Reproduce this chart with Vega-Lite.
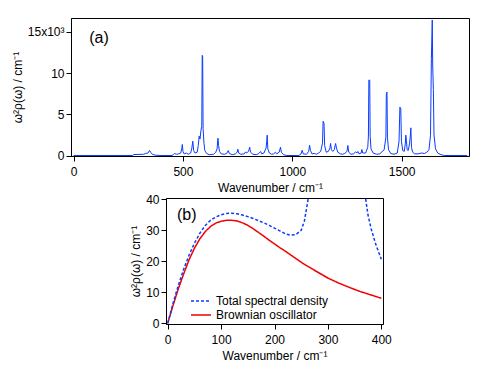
{
  "$schema": "https://vega.github.io/schema/vega-lite/v6.json",
  "padding": {"left": 10, "top": 17, "right": 0, "bottom": 0},
  "config": {
    "font": "Liberation Sans",
    "view": {"stroke": null},
    "axis": {"grid": false, "domainColor": "black", "tickColor": "black", "tickSize": 5, "labelColor": "black", "titleColor": "black", "labelFontSize": 12, "titleFontSize": 12, "titleFontWeight": "normal", "labelPadding": 2, "titlePadding": 3, "labelFont": "Liberation Sans", "titleFont": "Liberation Sans", "labelOverlap": false},
    "axisX": {"labelPadding": 5, "titlePadding": 5},
    "legend": {"labelFont": "Liberation Sans", "labelFontSize": 12}
  },
  "datasets": {
    "spectrum": [
      {"w":0,"s":0},{"w":270,"s":0},{"w":275,"s":120},{"w":320,"s":150},{"w":330,"s":250},{"w":340,"s":300},{"w":347,"s":620},{"w":352,"s":400},{"w":360,"s":150},{"w":375,"s":30},{"w":400,"s":0},{"w":450,"s":0},
      {"w":455,"s":100},{"w":462,"s":250},{"w":470,"s":150},{"w":480,"s":200},{"w":490,"s":300},{"w":495,"s":900},{"w":497,"s":1340},{"w":500,"s":500},{"w":505,"s":200},{"w":515,"s":300},{"w":525,"s":150},{"w":535,"s":300},{"w":540,"s":800},{"w":545,"s":1740},{"w":549,"s":600},{"w":555,"s":300},{"w":565,"s":400},{"w":570,"s":1200},{"w":574,"s":2350},{"w":578,"s":2000},{"w":582,"s":3000},{"w":586,"s":3560},{"w":588,"s":12160},{"w":590,"s":12000},{"w":592,"s":3300},{"w":596,"s":1500},{"w":600,"s":600},{"w":608,"s":250},{"w":620,"s":100},
      {"w":640,"s":150},{"w":650,"s":400},{"w":656,"s":800},{"w":660,"s":2100},{"w":663,"s":1200},{"w":667,"s":500},{"w":675,"s":200},{"w":690,"s":150},{"w":700,"s":250},{"w":707,"s":600},{"w":712,"s":250},{"w":725,"s":100},{"w":740,"s":200},{"w":748,"s":400},{"w":751,"s":770},{"w":755,"s":300},{"w":765,"s":150},{"w":780,"s":200},{"w":786,"s":440},{"w":790,"s":300},{"w":800,"s":500},{"w":805,"s":1010},{"w":809,"s":400},{"w":820,"s":150},{"w":835,"s":100},{"w":845,"s":200},{"w":855,"s":490},{"w":860,"s":200},{"w":870,"s":300},{"w":880,"s":900},{"w":883,"s":1700},{"w":885,"s":2470},{"w":888,"s":800},{"w":895,"s":300},{"w":905,"s":150},{"w":915,"s":200},{"w":923,"s":400},{"w":928,"s":200},{"w":940,"s":400},{"w":946,"s":1010},{"w":950,"s":400},{"w":960,"s":100},{"w":975,"s":0},
      {"w":1030,"s":0},{"w":1040,"s":200},{"w":1045,"s":640},{"w":1050,"s":200},{"w":1065,"s":150},{"w":1075,"s":500},{"w":1079,"s":1250},{"w":1083,"s":600},{"w":1090,"s":200},{"w":1100,"s":250},{"w":1110,"s":150},{"w":1120,"s":300},{"w":1130,"s":500},{"w":1138,"s":1500},{"w":1141,"s":4160},{"w":1145,"s":3900},{"w":1148,"s":1200},{"w":1155,"s":400},{"w":1165,"s":500},{"w":1172,"s":900},{"w":1175,"s":1460},{"w":1179,"s":700},{"w":1185,"s":500},{"w":1192,"s":700},{"w":1198,"s":1460},{"w":1202,"s":900},{"w":1208,"s":400},{"w":1220,"s":200},{"w":1230,"s":150},{"w":1240,"s":250},{"w":1250,"s":500},{"w":1254,"s":1220},{"w":1258,"s":400},{"w":1268,"s":150},{"w":1280,"s":200},{"w":1290,"s":450},{"w":1295,"s":300},{"w":1300,"s":490},{"w":1305,"s":200},{"w":1315,"s":300},{"w":1318,"s":730},{"w":1322,"s":300},{"w":1335,"s":300},
      {"w":1345,"s":1000},{"w":1348,"s":2350},{"w":1350,"s":9160},{"w":1354,"s":9160},{"w":1356,"s":2350},{"w":1360,"s":800},{"w":1370,"s":300},{"w":1385,"s":150},{"w":1400,"s":200},{"w":1420,"s":700},{"w":1428,"s":2230},{"w":1430,"s":7500},{"w":1433,"s":7700},{"w":1435,"s":2230},{"w":1440,"s":700},{"w":1450,"s":250},{"w":1465,"s":150},{"w":1480,"s":300},{"w":1488,"s":1740},{"w":1492,"s":5880},{"w":1496,"s":5700},{"w":1499,"s":1740},{"w":1505,"s":600},{"w":1512,"s":500},{"w":1517,"s":1500},{"w":1519,"s":2470},{"w":1522,"s":1800},{"w":1525,"s":700},{"w":1530,"s":600},{"w":1536,"s":1400},{"w":1540,"s":2500},{"w":1542,"s":3360},{"w":1545,"s":1000},{"w":1550,"s":400},{"w":1560,"s":200},{"w":1575,"s":200},{"w":1590,"s":300},{"w":1605,"s":250},{"w":1615,"s":400},{"w":1625,"s":700},{"w":1632,"s":2470},{"w":1636,"s":11750},{"w":1640,"s":16460},{"w":1642,"s":11000},{"w":1645,"s":8030},{"w":1648,"s":2470},{"w":1655,"s":800},{"w":1665,"s":300},{"w":1680,"s":100},{"w":1695,"s":0},{"w":1800,"s":0}
    ],
    "density": [
      {"w":0,"v":0,"series":"Brownian oscillator"},{"w":10,"v":5.8,"series":"Brownian oscillator"},{"w":20,"v":11.2,"series":"Brownian oscillator"},{"w":30,"v":16,"series":"Brownian oscillator"},{"w":40,"v":20.5,"series":"Brownian oscillator"},{"w":50,"v":24.2,"series":"Brownian oscillator"},{"w":60,"v":27.2,"series":"Brownian oscillator"},{"w":70,"v":29.5,"series":"Brownian oscillator"},{"w":80,"v":31.2,"series":"Brownian oscillator"},{"w":90,"v":32.3,"series":"Brownian oscillator"},{"w":100,"v":32.9,"series":"Brownian oscillator"},{"w":110,"v":33.2,"series":"Brownian oscillator"},{"w":120,"v":33.2,"series":"Brownian oscillator"},{"w":130,"v":33.0,"series":"Brownian oscillator"},{"w":140,"v":32.4,"series":"Brownian oscillator"},{"w":150,"v":31.6,"series":"Brownian oscillator"},{"w":160,"v":30.5,"series":"Brownian oscillator"},{"w":170,"v":29.3,"series":"Brownian oscillator"},{"w":180,"v":28.1,"series":"Brownian oscillator"},{"w":190,"v":26.8,"series":"Brownian oscillator"},{"w":200,"v":25.6,"series":"Brownian oscillator"},{"w":210,"v":24.4,"series":"Brownian oscillator"},{"w":220,"v":23.3,"series":"Brownian oscillator"},{"w":230,"v":22.1,"series":"Brownian oscillator"},{"w":240,"v":20.9,"series":"Brownian oscillator"},{"w":250,"v":19.7,"series":"Brownian oscillator"},{"w":260,"v":18.6,"series":"Brownian oscillator"},{"w":270,"v":17.6,"series":"Brownian oscillator"},{"w":280,"v":16.6,"series":"Brownian oscillator"},{"w":290,"v":15.6,"series":"Brownian oscillator"},{"w":300,"v":14.6,"series":"Brownian oscillator"},{"w":320,"v":13.0,"series":"Brownian oscillator"},{"w":340,"v":11.6,"series":"Brownian oscillator"},{"w":360,"v":10.3,"series":"Brownian oscillator"},{"w":380,"v":9.2,"series":"Brownian oscillator"},{"w":400,"v":8.1,"series":"Brownian oscillator"},
      {"w":0,"v":0,"series":"Total spectral density"},{"w":10,"v":6.5,"series":"Total spectral density"},{"w":20,"v":12.3,"series":"Total spectral density"},{"w":30,"v":17.5,"series":"Total spectral density"},{"w":40,"v":22,"series":"Total spectral density"},{"w":50,"v":25.8,"series":"Total spectral density"},{"w":60,"v":29,"series":"Total spectral density"},{"w":70,"v":31.5,"series":"Total spectral density"},{"w":80,"v":33.2,"series":"Total spectral density"},{"w":90,"v":34.3,"series":"Total spectral density"},{"w":100,"v":35,"series":"Total spectral density"},{"w":110,"v":35.4,"series":"Total spectral density"},{"w":120,"v":35.5,"series":"Total spectral density"},{"w":130,"v":35.3,"series":"Total spectral density"},{"w":140,"v":34.9,"series":"Total spectral density"},{"w":150,"v":34.4,"series":"Total spectral density"},{"w":160,"v":33.8,"series":"Total spectral density"},{"w":170,"v":33.1,"series":"Total spectral density"},{"w":180,"v":32.4,"series":"Total spectral density"},{"w":190,"v":31.6,"series":"Total spectral density"},{"w":200,"v":30.7,"series":"Total spectral density"},{"w":210,"v":29.8,"series":"Total spectral density"},{"w":220,"v":28.9,"series":"Total spectral density"},{"w":230,"v":28.4,"series":"Total spectral density"},{"w":240,"v":28.6,"series":"Total spectral density"},{"w":250,"v":30,"series":"Total spectral density"},{"w":256,"v":33,"series":"Total spectral density"},{"w":260,"v":37,"series":"Total spectral density"},{"w":265,"v":42,"series":"Total spectral density"},{"w":275,"v":55,"series":"Total spectral density"},{"w":300,"v":90,"series":"Total spectral density"},{"w":347,"v":600,"series":"Total spectral density"},{"w":360,"v":120,"series":"Total spectral density"},{"w":368,"v":48,"series":"Total spectral density"},{"w":370,"v":41,"series":"Total spectral density"},{"w":375,"v":35,"series":"Total spectral density"},{"w":381,"v":30.5,"series":"Total spectral density"},{"w":390,"v":25.3,"series":"Total spectral density"},{"w":400,"v":20.7,"series":"Total spectral density"}
    ]
  },
  "vconcat": [
    {
      "width": 398,
      "height": 138,
      "view": {"stroke": "black", "strokeWidth": 1},
      "layer": [
        {
          "data": {"name": "spectrum"},
          "mark": {"type": "line", "color": "#0a3cff", "strokeWidth": 1, "clip": true},
          "encoding": {
            "x": {"field": "w", "type": "quantitative", "scale": {"domain": [-12, 1808], "nice": false, "zero": false},
                  "axis": {"values": [0, 500, 1000, 1500], "format": "d", "title": "Wavenumber / cm⁻¹"}},
            "y": {"field": "s", "type": "quantitative", "scale": {"domain": [-60, 16700], "nice": false, "zero": false},
                  "axis": {"values": [0, 5000, 10000, 15000], "title": "ω²ρ(ω) / cm⁻¹", "labelExpr": "datum.value == 15000 ? '15x10³' : format(datum.value / 1000, 'd')"}}
          }
        },
        {
          "data": {"values": [{"label": "(a)"}]},
          "mark": {"type": "text", "fontSize": 16, "align": "center", "baseline": "middle", "font": "Liberation Sans"},
          "encoding": {
            "x": {"datum": 116, "type": "quantitative"},
            "y": {"datum": 14270, "type": "quantitative"},
            "text": {"field": "label"}
          }
        }
      ]
    },
    {
      "spacing": 0,
      "hconcat": [
        {
          "width": 58,
          "height": 10,
          "data": {"values": []},
          "mark": {"type": "point", "opacity": 0},
          "encoding": {}
        },
        {
          "width": 217,
          "height": 126,
          "view": {"stroke": "black", "strokeWidth": 1},
          "layer": [
            {
              "data": {"name": "density"},
              "mark": {"type": "line", "strokeWidth": 1.5, "clip": true},
              "encoding": {
                "x": {"field": "w", "type": "quantitative", "scale": {"domain": [-3.2, 403.2], "nice": false, "zero": false},
                      "axis": {"values": [0, 100, 200, 300, 400], "title": "Wavenumber / cm⁻¹"}},
                "y": {"field": "v", "type": "quantitative", "scale": {"domain": [-0.2, 40.4], "nice": false, "zero": false},
                      "axis": {"values": [0, 10, 20, 30, 40], "tickCount": 5, "labelOverlap": false, "title": "ω²ρ(ω) / cm⁻¹"}},
                "color": {"field": "series", "type": "nominal",
                          "scale": {"domain": ["Total spectral density", "Brownian oscillator"], "range": ["#0a3cff", "#f00000"]},
                          "legend": {"orient": "none", "legendX": 119, "legendY": 277, "title": null, "symbolType": "stroke", "symbolSize": 400, "symbolStrokeWidth": 1.5, "clipHeight": 12, "rowPadding": 2, "padding": 0, "labelOffset": 4}},
                "strokeDash": {"field": "series", "type": "nominal",
                          "scale": {"domain": ["Total spectral density", "Brownian oscillator"], "range": [[3, 2], [1, 0]]},
                          "legend": {"orient": "none", "legendX": 119, "legendY": 277, "title": null, "symbolType": "stroke", "symbolSize": 400, "symbolStrokeWidth": 1.5, "clipHeight": 12, "rowPadding": 2, "padding": 0, "labelOffset": 4}}
              }
            },
            {
              "data": {"values": [{"label": "(b)"}]},
              "mark": {"type": "text", "fontSize": 16, "align": "center", "baseline": "middle", "font": "Liberation Sans"},
              "encoding": {
                "x": {"datum": 35.6, "type": "quantitative"},
                "y": {"datum": 34.9, "type": "quantitative", "axis": {"values": [0, 10, 20, 30, 40]}},
                "text": {"field": "label"}
              }
            }
          ]
        }
      ]
    }
  ],
  "spacing": -2
}
